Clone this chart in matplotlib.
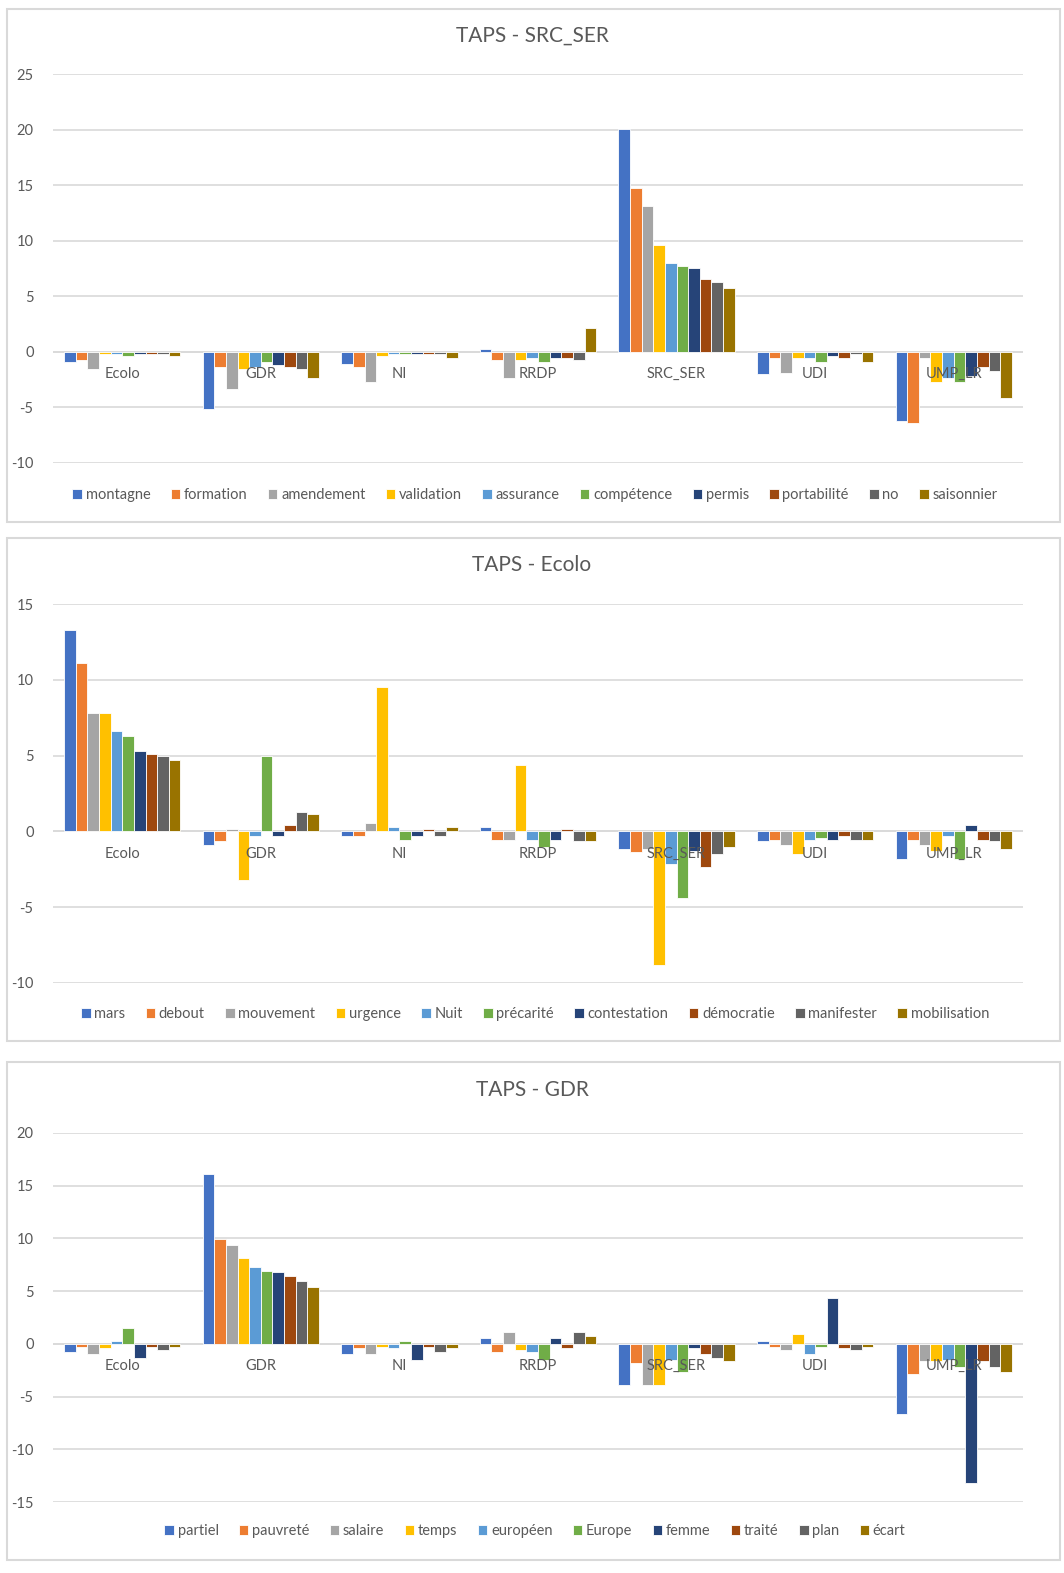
import matplotlib
matplotlib.use('Agg')
import matplotlib.pyplot as plt
import numpy as np
from matplotlib.patches import Rectangle

plt.rcParams['font.family'] = ['Lato', 'DejaVu Sans']
plt.rcParams['axes.unicode_minus'] = False

groupes = ['Ecolo', 'GDR', 'NI', 'RRDP', 'SRC_SER', 'UDI', 'UMP_LR']
couleurs = ['#4472C4', '#ED7D31', '#A5A5A5', '#FFC000', '#5B9BD5',
            '#70AD47', '#264478', '#9E480E', '#636363', '#997300']

# TAPS - SRC_SER
mots_ser = ['montagne', 'formation', 'amendement', 'validation', 'assurance',
            'compétence', 'permis', 'portabilité', 'no', 'saisonnier']
val_ser = [
    [-0.87, -5.1, -1.05, 0.25, 20.06, -2.0, -6.25],
    [-0.72, -1.35, -1.35, -0.72, 14.7, -0.55, -6.4],
    [-1.53, -3.3, -2.68, -2.35, 13.08, -1.86, -0.55],
    [-0.2, -1.5, -0.4, -0.72, 9.65, -0.55, -2.68],
    [-0.2, -1.35, -0.2, -0.55, 8.03, -0.55, -2.35],
    [-0.4, -0.87, -0.2, -0.87, 7.7, -0.87, -2.68],
    [-0.2, -1.2, -0.2, -0.55, 7.55, -0.4, -2.17],
    [-0.2, -1.35, -0.2, -0.55, 6.56, -0.55, -1.35],
    [-0.2, -1.53, -0.2, -0.72, 6.29, -0.2, -1.68],
    [-0.4, -2.35, -0.55, 2.17, 5.74, -0.87, -4.12],
]

# TAPS - Ecolo
mots_eco = ['mars', 'debout', 'mouvement', 'urgence', 'Nuit',
            'précarité', 'contestation', 'démocratie', 'manifester', 'mobilisation']
val_eco = [
    [13.27, -0.9, -0.31, 0.29, -1.15, -0.66, -1.85],
    [11.1, -0.66, -0.31, -0.55, -1.39, -0.55, -0.55],
    [7.84, 0.18, 0.53, -0.55, -1.15, -0.9, -0.9],
    [7.84, -3.18, 9.54, 4.37, -8.83, -1.5, -1.28],
    [6.64, -0.31, 0.29, -0.55, -2.12, -0.55, -0.31],
    [6.29, 4.97, -0.55, -1.06, -4.37, -0.42, -1.85],
    [5.32, -0.31, -0.31, -0.55, -1.26, -0.55, 0.42],
    [5.08, 0.42, 0.18, 0.18, -2.34, -0.31, -0.55],
    [4.97, 1.26, -0.31, -0.66, -1.5, -0.55, -0.66],
    [4.72, 1.13, 0.29, -0.66, -1.04, -0.55, -1.15],
]

# TAPS - GDR
mots_gdr = ['partiel', 'pauvreté', 'salaire', 'temps', 'européen',
            'Europe', 'femme', 'traité', 'plan', 'écart']
val_gdr = [
    [-0.79, 16.13, -0.98, 0.57, -3.9, 0.25, -6.67],
    [-0.29, 9.9, -0.44, -0.79, -1.84, -0.29, -2.86],
    [-0.98, 9.37, -0.98, 1.11, -3.9, -0.63, -1.65],
    [-0.44, 8.16, -0.29, -0.63, -3.9, 0.92, -1.65],
    [0.25, 7.3, -0.44, -0.79, -1.49, -0.98, -1.49],
    [1.46, 6.95, 0.25, -1.49, -2.7, -0.29, -2.19],
    [-1.33, 6.79, -1.49, 0.57, -0.44, 4.35, -13.17],
    [-0.29, 6.44, -0.29, -0.44, -0.98, -0.44, -1.65],
    [-0.63, 5.94, -0.79, 1.11, -1.33, -0.63, -2.19],
    [-0.29, 5.4, -0.44, 0.73, -1.65, -0.29, -2.7],
]

W, H = 1064, 1573
fig = plt.figure(figsize=(W / 100, H / 100), dpi=100)

panneaux = [
    ('TAPS - SRC_SER', mots_ser, val_ser, (-10, 25), 9, 522, 74, 463, 36, 495),
    ('TAPS - Ecolo', mots_eco, val_eco, (-10, 15), 538, 1041, 604, 983, 565, 1014),
    ('TAPS - GDR', mots_gdr, val_gdr, (-15, 20), 1062, 1560, 1133, 1502, 1090, 1531),
]

gris = '#595959'
x = np.arange(len(groupes))
larg = 0.084

for titre, mots, vals, ylim, boite_h, boite_b, ax_h, ax_b, y_titre, y_leg in panneaux:
    # cadre du graphique
    fig.patches.append(Rectangle((7 / W, 1 - boite_b / H), (1053) / W, (boite_b - boite_h) / H,
                                 transform=fig.transFigure, fill=False,
                                 edgecolor='#D9D9D9', linewidth=1.5))
    ax = fig.add_axes([53 / W, 1 - ax_b / H, 970 / W, (ax_b - ax_h) / H])
    for k, (mot, serie) in enumerate(zip(mots, vals)):
        ax.bar(x + (k - 4.5) * larg, serie, larg, color=couleurs[k],
               edgecolor='white', linewidth=0.6, label=mot, zorder=2)
    ax.set_xlim(-0.5, len(groupes) - 0.5)
    ax.set_ylim(*ylim)
    ax.set_yticks(np.arange(ylim[0], ylim[1] + 1, 5))
    ax.set_xticks([])
    ax.grid(axis='y', color='#D9D9D9', linewidth=1.2, zorder=0)
    ax.axhline(0, color='#D9D9D9', linewidth=1.2, zorder=1)
    ax.set_axisbelow(True)
    for s in ax.spines.values():
        s.set_visible(False)
    ax.tick_params(axis='y', length=0, pad=14, labelsize=10.5, labelcolor=gris)
    for i, g in enumerate(groupes):
        ax.annotate(g, xy=(i, 0), xytext=(0, -16), textcoords='offset points',
                    ha='center', va='center', fontsize=10.5, color=gris, zorder=5)
    fig.text(532 / W, 1 - y_titre / H, titre, ha='center', va='center',
             fontsize=15, color=gris)
    fig.legend(*ax.get_legend_handles_labels(), loc='center',
               bbox_to_anchor=(535 / W, 1 - y_leg / H), ncol=10, frameon=False,
               fontsize=10.5, handlelength=0.65, handleheight=0.65,
               handletextpad=0.25, columnspacing=1.4, labelcolor=gris)

fig.savefig('out.png', dpi=100, facecolor='white')
